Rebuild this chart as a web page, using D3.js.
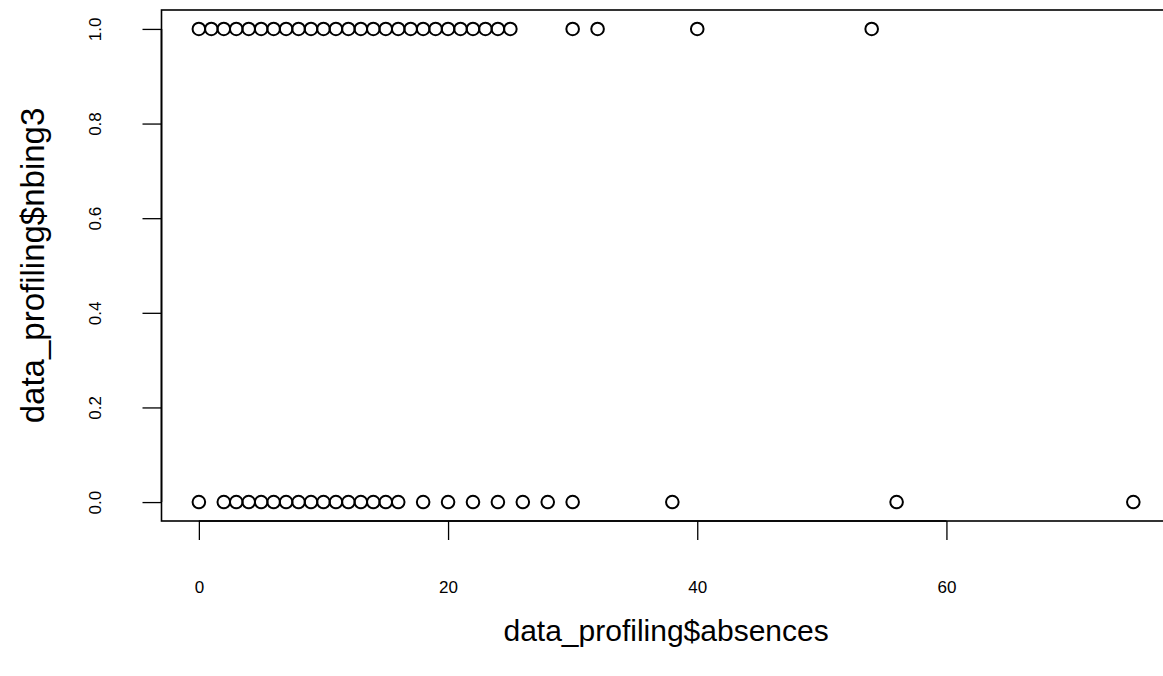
<!DOCTYPE html>
<html>
<head>
<meta charset="utf-8">
<script src="https://cdn.jsdelivr.net/npm/d3@7"></script>
<style>
  body { margin: 0; background: #fff; }
  svg { display: block; font-family: "Liberation Sans", Arial, sans-serif; }
</style>
</head>
<body>
<svg id="chart" width="1163" height="676"></svg>
<script>
// Data: absences values for each nbing3 group (distinct values plotted)
const absencesNbing1 = [0,1,2,3,4,5,6,7,8,9,10,11,12,13,14,15,16,17,18,19,20,21,22,23,24,25,30,32,40,54];
const absencesNbing0 = [0,2,3,4,5,6,7,8,9,10,11,12,13,14,15,16,18,20,22,24,26,28,30,38,56,75];
const xTicks = [0, 20, 40, 60];
const yTicks = [0, 0.2, 0.4, 0.6, 0.8, 1.0];
const xTitle = "data_profiling$absences";
const yTitle = "data_profiling$nbing3";

(function () {
const points = absencesNbing1.map(a => ({x: a, y: 1}))
  .concat(absencesNbing0.map(a => ({x: a, y: 0})));

const svg = d3.select("#chart");
const pL = 161.5, pR = 1170.7, pT = 10, pB = 521;

const x = d3.scaleLinear().domain([-3, 78]).range([pL, pR]);
const y = d3.scaleLinear().domain([-0.04, 1.04]).range([pB, pT]);

// box
svg.append("rect")
  .attr("x", pL).attr("y", pT)
  .attr("width", pR - pL).attr("height", pB - pT)
  .attr("fill", "none").attr("stroke", "#000").attr("stroke-width", 1.6);

// x axis
const xAxis = d3.axisBottom(x).tickValues(xTicks).tickSize(19).tickFormat(d3.format("d")).tickPadding(0);
const gx = svg.append("g").attr("transform", `translate(0,${pB})`).call(xAxis);
gx.attr("font-size", null).attr("font-family", null);
gx.select(".domain").attr("d", `M${x(0)},0H${x(60)}`).attr("stroke-width", 1.6);
gx.selectAll(".tick line").attr("stroke-width", 1.3);
gx.selectAll(".tick text").attr("y", 0).attr("dy", null)
  .attr("transform", "translate(0,66)")
  .style("font-size", "17px")
  .attr("fill", "#000").attr("dominant-baseline", "central");

// y axis
const yAxis = d3.axisLeft(y).tickValues(yTicks).tickSize(19).tickFormat(d3.format(".1f"));
const gy = svg.append("g").attr("transform", `translate(${pL},0)`).call(yAxis);
gy.attr("font-size", null).attr("font-family", null);
gy.select(".domain").attr("d", `M0,${y(0)}V${y(1)}`).attr("stroke-width", 1.6);
gy.selectAll(".tick line").attr("stroke-width", 1.3);
gy.selectAll(".tick text")
  .attr("x", 0).attr("dy", null).attr("text-anchor", "middle")
  .attr("transform", "translate(-66,0) rotate(-90)")
  .style("font-size", "17px")
  .attr("fill", "#000").attr("dominant-baseline", "central");

// points
svg.append("g").selectAll("circle").data(points).join("circle")
  .attr("cx", d => x(d.x)).attr("cy", d => y(d.y)).attr("r", 6.3)
  .attr("fill", "none").attr("stroke", "#000").attr("stroke-width", 2);

// titles
svg.append("text").attr("x", (pL + pR) / 2).attr("y", 641)
  .attr("text-anchor", "middle").style("font-size", "30px").text(xTitle);
svg.append("text").attr("transform", `translate(44,${(pT + pB) / 2}) rotate(-90)`)
  .attr("text-anchor", "middle").style("font-size", "33px").text(yTitle);
})();
</script>
</body>
</html>
